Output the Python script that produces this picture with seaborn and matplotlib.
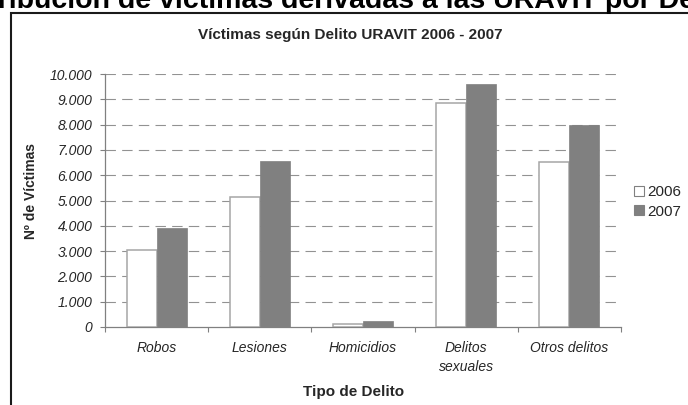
import matplotlib
matplotlib.use("Agg")
import matplotlib.pyplot as plt
from matplotlib.patches import Rectangle, Patch
import seaborn as sns
import pandas as pd

# Data
categorias = ["Robos", "Lesiones", "Homicidios", "Delitos\nsexuales", "Otros delitos"]
anios = ["2006", "2007"]
victimas_2006 = [3050, 5130, 130, 8870, 6510]
victimas_2007 = [3900, 6560, 240, 9600, 7980]
y_ticks = [0, 1000, 2000, 3000, 4000, 5000, 6000, 7000, 8000, 9000, 10000]
y_tick_labels = ["0", "1.000", "2.000", "3.000", "4.000", "5.000",
                 "6.000", "7.000", "8.000", "9.000", "10.000"]

df = pd.DataFrame({
    "Tipo": categorias * 2,
    "Año": [anios[0]] * len(categorias) + [anios[1]] * len(categorias),
    "Víctimas": victimas_2006 + victimas_2007,
})

sns.set_theme(style="white")
plt.rcParams["font.family"] = ["Liberation Sans", "DejaVu Sans"]
plt.rcParams["lines.scale_dashes"] = False

W, H = 688, 405
fig = plt.figure(figsize=(W / 100, H / 100), dpi=100)
fig.patch.set_facecolor("white")

# Page heading above the chart frame (wider than the page)
fig.text(341 / W, 1 - 8.5 / H, "Distribución de víctimas derivadas a las URAVIT por Delito",
         ha="center", va="baseline", fontsize=20.5, fontweight="bold", color="black")

# Chart frame
frame = Rectangle((11 / W, -0.1), 1.0, (H - 12.5) / H + 0.1,
                  transform=fig.transFigure, fill=False, edgecolor="#1a1a1a",
                  linewidth=1.5, zorder=0)
fig.patches.append(frame)

ax = fig.add_axes([105 / W, (H - 327) / H, 516 / W, 253 / H])
sns.barplot(data=df, x="Tipo", y="Víctimas", hue="Año", order=categorias,
            hue_order=anios, palette={"2006": "white", "2007": "#808080"},
            width=0.58, saturation=1, legend=False, ax=ax, zorder=3)

for patch in ax.patches:
    fc = patch.get_facecolor()
    if fc[0] > 0.9:
        patch.set_edgecolor("#a6a6a6")
        patch.set_linewidth(1.1)
    else:
        patch.set_edgecolor("#808080")
        patch.set_linewidth(0.5)

ax.set_xlim(-0.5, 4.5)
ax.set_ylim(0, 10000)

# Dashed gridlines at each thousand
for v in y_ticks[1:]:
    ax.axhline(v, color="#929292", linewidth=0.8, dashes=(7.5, 4.5), zorder=1)

ax.set_yticks(y_ticks)
ax.set_yticklabels(y_tick_labels, fontsize=10, fontstyle="italic")
ax.tick_params(axis="y", length=3.6, width=0.8, color="#808080", pad=5.5, left=True)

ax.set_xticks(range(len(categorias)))
ax.set_xticklabels(categorias, fontsize=10, fontstyle="italic", linespacing=1.45)
ax.set_xticks([i - 0.5 for i in range(len(categorias) + 1)], minor=True)
ax.tick_params(axis="x", which="major", length=0, pad=10)
ax.tick_params(axis="x", which="minor", length=3.6, width=0.8, color="#808080",
               bottom=True)

for side in ["top", "right"]:
    ax.spines[side].set_visible(False)
for side in ["left", "bottom"]:
    ax.spines[side].set_color("#808080")
    ax.spines[side].set_linewidth(0.9)

ax.set_xlabel("")
ax.set_ylabel("")
fig.text(354 / W, 1 - 392 / H, "Tipo de Delito", ha="center", va="center",
         fontsize=11, fontweight="bold")
fig.text(31 / W, 1 - 191.5 / H, "Nº de Víctimas", ha="center", va="center",
         rotation=90, fontsize=10, fontweight="bold")

fig.text(350 / W, 1 - 35 / H, "Víctimas según Delito URAVIT 2006 - 2007",
         ha="center", va="center", fontsize=11, fontweight="bold")

handles = [Patch(facecolor="white", edgecolor="#808080", linewidth=0.8, label="2006"),
           Patch(facecolor="#808080", edgecolor="#808080", linewidth=0.8, label="2007")]
fig.legend(handles=handles, loc="center left", bbox_to_anchor=(634 / W, 1 - 202 / H),
           frameon=False, fontsize=11, handlelength=0.65, handleheight=0.65,
           handletextpad=0.25, labelspacing=0.35, borderaxespad=0, borderpad=0)

fig.savefig("out.png", dpi=100, facecolor="white")
